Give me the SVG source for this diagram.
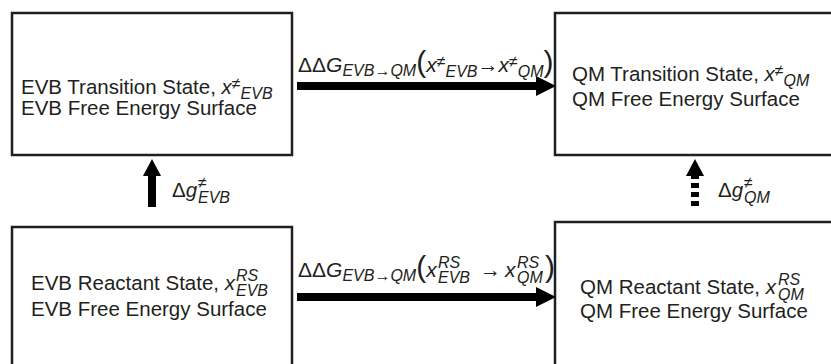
<svg xmlns="http://www.w3.org/2000/svg" width="831" height="364" viewBox="0 0 831 364">
<style>
.box{fill:#fff;stroke:#231f20;stroke-width:2.5}
.t{font-family:"Liberation Sans",Arial,sans-serif;font-size:20.5px;fill:#231f20}
.i{font-style:italic}
.s{font-size:16px;font-style:italic}
.p{font-size:30px}
.arr{stroke:#000;stroke-width:8;fill:none}
.head{fill:#000}
</style>
<rect width="831" height="364" fill="#fff"/>
<g id="evb-ts">
<rect class="box" x="12" y="13" width="280" height="142"/>
<text class="t" x="21" y="94">EVB Transition State, <tspan class="i">x</tspan><tspan class="s" dy="-5">≠</tspan><tspan class="s" dy="10">EVB</tspan></text>
<text class="t" x="21" y="115">EVB Free Energy Surface</text>
</g>
<g id="qm-ts">
<rect class="box" x="555" y="13" width="290" height="142"/>
<text class="t" x="572" y="81">QM Transition State, <tspan class="i">x</tspan><tspan class="s" dy="-5">≠</tspan><tspan class="s" dy="10">QM</tspan></text>
<text class="t" x="572" y="106">QM Free Energy Surface</text>
</g>
<g id="evb-rs">
<rect class="box" x="12" y="227" width="280" height="150"/>
<text class="t" x="31" y="290">EVB Reactant State, <tspan class="i">x</tspan><tspan class="s" x="236" dy="-9">RS</tspan><tspan class="s" x="236" dy="15">EVB</tspan></text>
<text class="t" x="31" y="316">EVB Free Energy Surface</text>
</g>
<g id="qm-rs">
<rect class="box" x="555" y="222" width="290" height="150"/>
<text class="t" x="580" y="294">QM Reactant State, <tspan class="i">x</tspan><tspan class="s" x="778" dy="-9">RS</tspan><tspan class="s" x="778" dy="15">QM</tspan></text>
<text class="t" x="580" y="318">QM Free Energy Surface</text>
</g>
<g id="connectors">
<line class="arr" x1="297" y1="86" x2="538" y2="86"/>
<polygon class="head" points="536,76 556,86 536,96"/>
<line class="arr" x1="297" y1="297" x2="538" y2="297"/>
<polygon class="head" points="536,287 556,297 536,307"/>
<line class="arr" x1="152" y1="207" x2="152" y2="174"/>
<polygon class="head" points="143,176 152,159 161,176"/>
<line class="arr" x1="695" y1="206" x2="695" y2="174" stroke-dasharray="5,4"/>
<polygon class="head" points="686,176 695,159 704,176"/>
</g>
<g id="labels">
<text class="t" x="298" y="72" style="font-size:21px">ΔΔ<tspan class="i">G</tspan><tspan class="s" dy="4">EVB→QM</tspan><tspan class="p" dy="-4">(</tspan><tspan class="i">x</tspan><tspan class="s" dy="-5">≠</tspan><tspan class="s" dy="10">EVB</tspan><tspan dy="-5">→</tspan><tspan class="i">x</tspan><tspan class="s" dy="-5">≠</tspan><tspan class="s" dy="10">QM</tspan><tspan class="p" dy="-5">)</tspan></text>
<text class="t" x="298" y="277" style="font-size:21px">ΔΔ<tspan class="i">G</tspan><tspan class="s" dy="4">EVB→QM</tspan><tspan class="p" dy="-4">(</tspan><tspan class="i">x</tspan><tspan class="s" x="438" dy="-9">RS</tspan><tspan class="s" x="438" dy="15">EVB</tspan><tspan x="480" dy="-6">→</tspan><tspan class="i" x="505">x</tspan><tspan class="s" x="517" dy="-9">RS</tspan><tspan class="s" x="517" dy="15">QM</tspan><tspan class="p" x="545" dy="-6">)</tspan></text>
<text class="t" x="172" y="197">Δ<tspan class="i">g</tspan><tspan class="s" x="198" dy="-9">≠</tspan><tspan class="s" x="198" dy="15">EVB</tspan></text>
<text class="t" x="718" y="197">Δ<tspan class="i">g</tspan><tspan class="s" x="744" dy="-9">≠</tspan><tspan class="s" x="744" dy="15">QM</tspan></text>
</g>
</svg>
